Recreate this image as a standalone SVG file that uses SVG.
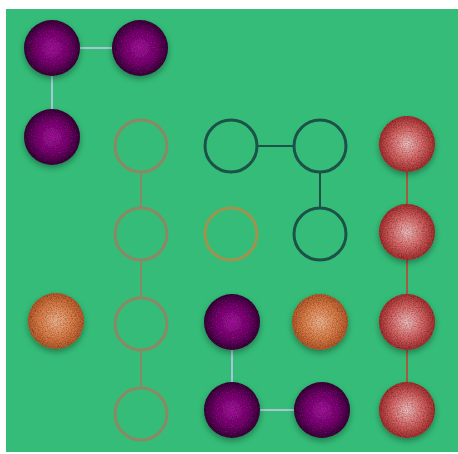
<svg xmlns="http://www.w3.org/2000/svg" width="458" height="454" viewBox="0 0 458 454">
<style>
.bg{fill:#34bc78}
.ball{filter:url(#tex)}
.purple{fill:url(#gPurple)}
.orange{fill:url(#gOrange)}
.red{fill:url(#gRed)}
.ring{fill:#34bc78;stroke-width:3}
.tan{stroke:#8c8866}
.olive{stroke:#9e9450}
.dark{stroke:#1c5248}
.c-blue{stroke:#a6c6d6;stroke-width:2}
.c-tan{stroke:#8a8866;stroke-width:2}
.c-dark{stroke:#1c5248;stroke-width:2}
.c-red{stroke:#a45a3c;stroke-width:2}
</style>
<defs>
<radialGradient id="gPurple" cx="0.5" cy="0.5" r="0.5">
<stop offset="0" stop-color="#aa16a2"/>
<stop offset="0.6" stop-color="#7a0e72"/>
<stop offset="1" stop-color="#3a0a3a"/>
</radialGradient>
<radialGradient id="gOrange" cx="0.5" cy="0.5" r="0.5">
<stop offset="0" stop-color="#f6b890"/>
<stop offset="0.6" stop-color="#e0804a"/>
<stop offset="1" stop-color="#b85a2c"/>
</radialGradient>
<radialGradient id="gRed" cx="0.5" cy="0.5" r="0.5">
<stop offset="0" stop-color="#f6c0c0"/>
<stop offset="0.55" stop-color="#dc6a6a"/>
<stop offset="1" stop-color="#a83030"/>
</radialGradient>
<filter id="tex" x="-30%" y="-30%" width="160%" height="170%">
<feTurbulence type="fractalNoise" baseFrequency="0.8" numOctaves="2" seed="3" result="n"/>
<feColorMatrix in="n" type="matrix" values="0 0 0 0 0  0 0 0 0 0  0 0 0 0 0  0 0 0 1.1 -0.35" result="dn"/>
<feComposite in="dn" in2="SourceGraphic" operator="in" result="dots"/>
<feMerge result="tx"><feMergeNode in="SourceGraphic"/><feMergeNode in="dots"/></feMerge>
<feGaussianBlur in="SourceAlpha" stdDeviation="3"/>
<feOffset dy="3" result="sh"/>
<feComponentTransfer in="sh" result="sh2"><feFuncA type="linear" slope="0.35"/></feComponentTransfer>
<feMerge><feMergeNode in="sh2"/><feMergeNode in="tx"/></feMerge>
</filter>
</defs>
<rect class="bg" x="6" y="9" width="452" height="443"/>
<g id="connectors">
<line class="c-blue" x1="52" y1="48" x2="140" y2="48"/>
<line class="c-blue" x1="52" y1="48" x2="52" y2="137"/>
<line class="c-tan" x1="141" y1="146" x2="141" y2="414"/>
<line class="c-dark" x1="231" y1="146" x2="320" y2="146"/>
<line class="c-dark" x1="320" y1="146" x2="320" y2="234"/>
<line class="c-blue" x1="232" y1="322" x2="232" y2="410"/>
<line class="c-blue" x1="232" y1="410" x2="322" y2="410"/>
<line class="c-red" x1="407" y1="144" x2="407" y2="410"/>
</g>
<g id="n1"><circle class="ball purple" cx="52" cy="48" r="28"/></g>
<g id="n2"><circle class="ball purple" cx="140" cy="48" r="28"/></g>
<g id="n3"><circle class="ball purple" cx="52" cy="137" r="28"/></g>
<g id="n4"><circle class="ring tan" cx="141" cy="146" r="26"/></g>
<g id="n5"><circle class="ring dark" cx="231" cy="146" r="26"/></g>
<g id="n6"><circle class="ring dark" cx="320" cy="146" r="26"/></g>
<g id="n7"><circle class="ball red" cx="407" cy="144" r="28"/></g>
<g id="n8"><circle class="ring tan" cx="141" cy="234" r="26"/></g>
<g id="n9"><circle class="ring olive" cx="231" cy="234" r="26"/></g>
<g id="n10"><circle class="ring dark" cx="320" cy="234" r="26"/></g>
<g id="n11"><circle class="ball red" cx="407" cy="232" r="28"/></g>
<g id="n12"><circle class="ball orange" cx="56" cy="321" r="28"/></g>
<g id="n13"><circle class="ring tan" cx="141" cy="324" r="26"/></g>
<g id="n14"><circle class="ball purple" cx="232" cy="322" r="28"/></g>
<g id="n15"><circle class="ball orange" cx="320" cy="322" r="28"/></g>
<g id="n16"><circle class="ball red" cx="407" cy="322" r="28"/></g>
<g id="n17"><circle class="ring tan" cx="141" cy="414" r="26"/></g>
<g id="n18"><circle class="ball purple" cx="232" cy="410" r="28"/></g>
<g id="n19"><circle class="ball purple" cx="322" cy="410" r="28"/></g>
<g id="n20"><circle class="ball red" cx="407" cy="410" r="28"/></g>
</svg>
